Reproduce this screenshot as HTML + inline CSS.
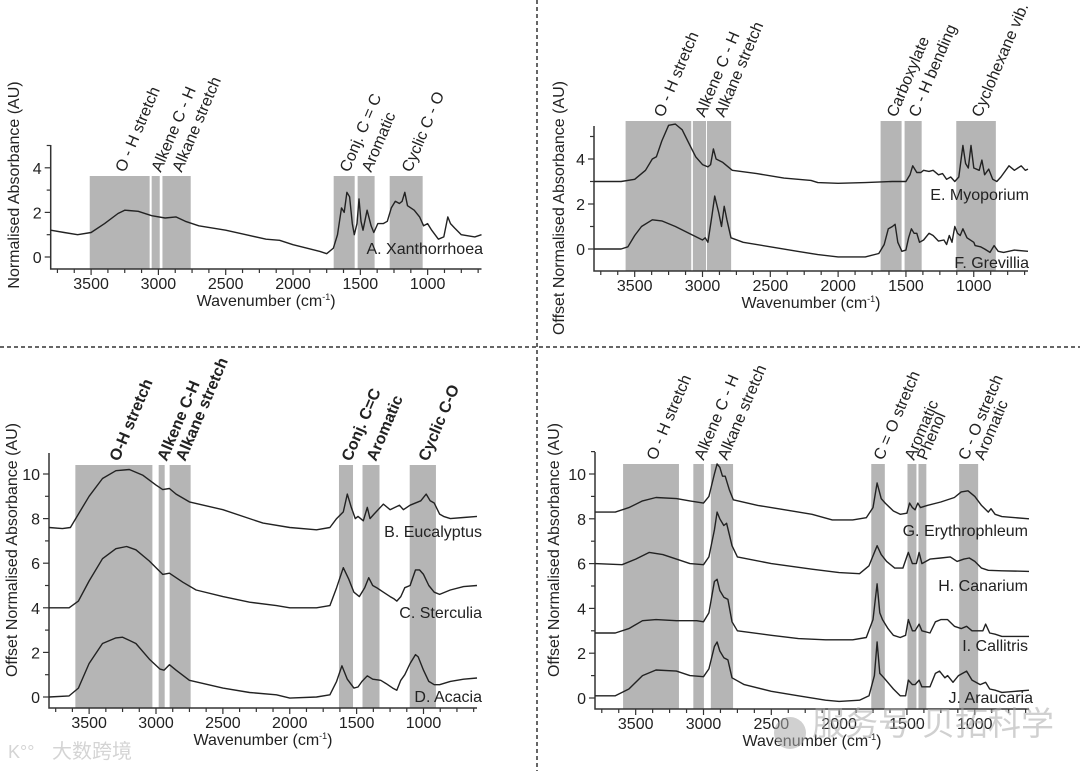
<!DOCTYPE html>
<html><head><meta charset="utf-8">
<style>
html,body{margin:0;padding:0;background:#fff;}
svg{display:block;font-family:"Liberation Sans","Noto Sans CJK SC",sans-serif;}
</style></head>
<body>
<svg id="fig" width="1080" height="771" viewBox="0 0 1080 771" xmlns="http://www.w3.org/2000/svg">
<rect x="0" y="0" width="1080" height="771" fill="#fff"/>
<line x1="537" y1="0" x2="537" y2="771" stroke="#333" stroke-width="1.5" stroke-dasharray="4 3"/>
<line x1="0" y1="347" x2="1080" y2="347" stroke="#333" stroke-width="1.5" stroke-dasharray="4 3"/>
<g id="layer"></g>
<g fill="#d4d4d4" font-size="20">
<text x="8" y="758" font-size="18">K°°</text>
<text x="52" y="758">大数跨境</text>
</g>
<g opacity="0.55">
<circle cx="790" cy="733" r="16" fill="#aaa"/>
<text x="812" y="735" font-size="33" fill="#aaa">服务号·贝拓科学</text>
</g>
</svg>
<script>
// ---------- data (wavenumber cm-1, absorbance AU) ----------
const wnA=[3800,3700,3600,3500,3400,3300,3250,3150,3050,2950,2870,2800,2700,2500,2350,2200,2100,2000,1900,1800,1750,1700,1670,1640,1620,1600,1580,1560,1545,1525,1510,1495,1480,1450,1420,1400,1370,1330,1300,1270,1240,1210,1190,1170,1150,1100,1060,1030,1000,970,920,880,850,830,800,750,700,650,600];
const abA=[1.2,1.1,1.0,1.1,1.5,1.95,2.1,2.05,1.85,1.75,1.8,1.6,1.4,1.2,1.0,0.8,0.75,0.55,0.4,0.25,0.15,0.4,1.0,2.2,2.0,2.9,2.7,1.5,1.0,1.5,2.6,1.6,1.2,2.1,1.4,1.1,1.5,1.5,1.6,2.2,2.5,2.4,2.5,2.9,2.3,2.1,1.8,1.4,1.5,1.2,0.8,0.9,1.8,1.5,1.3,1.0,0.95,0.9,1.0];

const wnE=[3800,3600,3500,3420,3370,3340,3300,3250,3200,3150,3100,3050,3000,2960,2940,2920,2900,2850,2780,2600,2400,2200,2150,2000,1800,1600,1500,1470,1450,1420,1390,1370,1330,1300,1260,1230,1200,1170,1140,1110,1080,1060,1040,1020,1000,960,940,920,890,860,830,800,740,700,650,620,600];
const abE=[3.0,3.0,3.1,3.5,4.0,4.1,4.8,5.5,5.55,5.3,4.7,4.1,3.75,3.65,3.75,4.45,4.0,3.85,3.5,3.35,3.15,3.05,2.95,2.92,2.95,3.0,3.0,3.3,3.7,3.4,3.4,3.5,3.45,3.5,3.3,3.35,3.1,3.2,3.0,3.2,4.6,3.8,3.6,4.6,3.6,3.5,3.95,3.3,3.55,3.1,3.0,3.2,3.7,3.5,3.7,3.5,3.55];
const wnF=[3800,3600,3550,3500,3450,3370,3300,3200,3100,3000,2980,2960,2930,2910,2880,2860,2840,2820,2790,2700,2500,2300,2150,2000,1800,1700,1660,1630,1600,1580,1560,1530,1500,1480,1460,1440,1420,1400,1370,1330,1300,1260,1220,1200,1180,1160,1140,1120,1100,1080,1050,1000,990,950,920,880,850,820,780,700,600];
const abF=[0,0,0.1,0.6,1.0,1.3,1.25,1.0,0.7,0.4,0.5,0.3,1.5,2.35,1.6,1.0,1.9,1.3,0.5,0.3,0.1,-0.1,-0.25,-0.35,-0.35,-0.2,0.2,0.9,1.0,1.1,0.3,-0.1,-0.05,0.5,0.9,0.7,0.7,0.3,0.4,0.7,0.6,0.35,0.4,0.2,0.6,0.3,1.0,0.7,0.6,0.9,0.5,0.3,0.15,0.1,0.0,-0.15,0.15,-0.1,-0.15,-0.05,-0.1];

const wnB=[3800,3700,3640,3580,3500,3400,3300,3200,3100,3000,2950,2900,2850,2750,2500,2200,2000,1800,1700,1650,1600,1570,1540,1510,1490,1450,1420,1400,1370,1300,1250,1180,1150,1100,1020,980,950,920,880,850,800,700,600];
const abB=[7.6,7.55,7.6,8.2,9.0,9.8,10.15,10.2,9.95,9.5,9.3,9.35,9.1,8.75,8.4,7.8,7.6,7.5,7.6,8.0,8.3,9.1,8.5,8.0,8.1,7.9,8.5,8.0,8.2,8.65,8.4,8.6,8.4,8.6,8.8,9.1,8.8,8.7,8.2,8.1,8.0,8.05,8.1];
const wnC=[3800,3650,3580,3500,3400,3300,3220,3150,3050,2950,2900,2800,2700,2500,2300,2100,2000,1800,1700,1650,1600,1560,1520,1480,1440,1410,1380,1350,1300,1250,1220,1200,1170,1140,1100,1060,1030,1000,960,920,880,800,700,600];
const abC=[4.0,4.0,4.3,5.2,6.2,6.65,6.75,6.6,6.1,5.5,5.55,5.15,4.8,4.5,4.25,4.1,4.0,4.0,4.1,4.9,5.8,5.3,4.7,4.5,4.9,5.35,5.0,4.9,4.7,4.5,4.4,4.3,4.5,4.9,5.0,5.7,5.7,5.5,5.0,4.7,4.6,4.8,4.95,5.0];
const wnD=[3800,3650,3580,3500,3400,3300,3250,3150,3050,2970,2940,2900,2850,2750,2500,2300,2100,2000,1800,1700,1650,1610,1570,1520,1490,1460,1420,1380,1320,1280,1230,1200,1170,1140,1100,1060,1040,1000,960,920,880,800,700,600];
const abD=[0.0,0.05,0.4,1.5,2.4,2.65,2.68,2.4,1.7,1.25,1.2,1.45,1.2,0.75,0.4,0.2,0.1,-0.05,0.0,0.1,0.7,1.4,0.8,0.4,0.45,0.7,0.95,0.8,0.75,0.6,0.4,0.3,0.75,1.0,1.5,1.9,1.8,1.2,0.7,0.55,0.55,0.7,0.8,0.85];

const wnG=[3800,3650,3550,3450,3350,3200,3100,3000,2960,2920,2900,2880,2860,2840,2810,2780,2600,2400,2200,2050,1900,1800,1750,1720,1690,1660,1600,1550,1500,1480,1460,1440,1420,1400,1350,1250,1150,1100,1050,1000,950,900,880,850,800,700,600];
const abG=[8.3,8.3,8.5,8.8,8.95,8.9,8.8,8.7,9.0,10.0,10.45,10.3,9.9,9.9,9.3,8.85,8.6,8.4,8.2,7.95,7.95,8.05,8.5,9.6,8.9,8.7,8.35,8.2,8.25,8.7,8.5,8.4,8.7,8.5,8.6,8.75,8.95,9.2,9.25,9.0,8.6,8.3,8.45,8.2,8.1,8.05,8.0];
const wnH=[3800,3600,3500,3400,3300,3200,3100,3000,2960,2920,2900,2880,2850,2830,2790,2750,2500,2200,2000,1850,1780,1720,1690,1650,1590,1530,1490,1460,1430,1410,1390,1330,1250,1180,1130,1080,1040,1000,950,900,800,600];
const abH=[6.0,5.95,6.2,6.5,6.4,6.2,6.0,5.95,6.3,7.5,8.3,8.0,7.7,7.8,6.8,6.3,6.0,5.75,5.6,5.55,5.9,6.8,6.4,6.1,5.8,5.8,6.5,6.0,6.0,6.5,6.0,6.2,6.25,6.3,6.1,6.2,6.25,6.1,5.8,5.7,5.68,5.65];
const wnI=[3800,3650,3550,3450,3350,3200,3050,3000,2960,2920,2900,2880,2850,2820,2790,2750,2500,2300,2100,1900,1800,1750,1720,1700,1680,1640,1600,1550,1510,1490,1460,1440,1410,1390,1330,1290,1250,1200,1150,1100,1060,1020,940,920,890,850,800,600];
const abI=[2.9,2.9,3.1,3.45,3.5,3.45,3.45,3.4,3.8,5.2,5.3,4.8,4.5,4.4,3.4,3.0,2.8,2.65,2.6,2.6,2.7,3.5,5.1,3.8,3.5,3.1,2.8,2.7,2.8,3.5,3.0,3.0,3.3,3.0,2.9,3.4,3.5,3.5,3.2,3.1,3.2,3.0,3.0,3.3,2.9,2.85,2.75,2.75];
const wnJ=[3800,3650,3550,3450,3350,3200,3100,3000,2960,2920,2900,2880,2850,2820,2790,2700,2500,2300,2100,2000,1850,1780,1740,1720,1700,1670,1600,1550,1510,1490,1460,1440,1410,1390,1330,1290,1260,1220,1200,1160,1120,1060,1020,960,920,890,850,800,700,600];
const abJ=[0.1,0.1,0.4,1.0,1.25,1.2,1.0,0.95,1.3,2.3,2.5,2.1,1.8,1.7,0.9,0.6,0.3,0.1,-0.1,-0.15,-0.1,0.1,1.0,2.5,1.1,0.9,0.4,0.1,0.1,0.8,0.6,0.6,0.8,0.5,0.5,1.1,1.2,0.9,1.0,0.7,1.0,1.2,0.8,0.6,0.7,0.4,0.35,0.25,0.3,0.35];

// tick labels
const xTickLabels=[3500,3000,2500,2000,1500,1000];
const yTicksTop=[0,2,4];
const yTicksBottom=[0,2,4,6,8,10];

// band ranges [high, low] cm-1 and labels
const bandsA=[[3510,3065],[3050,2990],[2970,2760],[1698,1542],[1520,1394],[1282,1037]];
const bandLabelsA=["O - H stretch","Alkene C - H","Alkane stretch","Conj. C = C","Aromatic","Cyclic C - O"];
const bandsB=[[3567,3083],[3071,2974],[2967,2789],[1687,1532],[1510,1384],[1129,837]];
const bandLabelsB=["O - H stretch","Alkene C - H","Alkane stretch","Carboxylate","C - H bending","Cyclohexane vib."];
const bandsC=[[3603,3027],[2980,2935],[2898,2741],[1632,1527],[1456,1329],[1103,907]];
const bandLabelsC=["O-H stretch","Alkene C-H","Alkane stretch","Conj. C=C","Aromatic","Cyclic C-O"];
const bandsD=[[3593,3181],[3075,2997],[2946,2782],[1763,1663],[1496,1430],[1415,1357],[1115,975]];
const bandLabelsD=["O - H stretch","Alkene C - H","Alkane stretch","C = O stretch","Aromatic","Phenol","C - O stretch"];

const NS="http://www.w3.org/2000/svg";
const layer=document.getElementById('layer');
function mk(tag,attrs,parent){const e=document.createElementNS(NS,tag);for(const k in attrs)e.setAttribute(k,attrs[k]);(parent||layer).appendChild(e);return e;}

function panel(p){
  const g=mk('g',{});
  
  
  const X=w=>p.x0+(3800-w)/3200*(p.x1-p.x0);
  const Y=v=>p.yz-v*p.ppu;
  const FS=16;
  p.bands.forEach((b,i)=>{
    const r=mk('rect',{x:X(b[0]),y:p.bandTop,width:X(b[1])-X(b[0]),height:p.yb-p.bandTop,fill:'#b5b5b5'},g);
    
    
  });
  p.labels.forEach((t,i)=>{
    const b=p.bands[i]; let cx=(X(b[0])+X(b[1]))/2+(p.labelDx&&p.labelDx[i]||0);
    const tx=mk('text',{x:0,y:0,'font-size':FS,fill:'#222','font-weight':p.bold?'bold':'normal',transform:'translate('+(cx+5)+','+(p.bandTop-3)+') rotate(-67)'},g);
    tx.textContent=t;
    
    
  });
  if(p.extraLabel){
    const b=p.bands[p.bands.length-1];const cx=(X(b[0])+X(b[1]))/2+10;
    const tx=mk('text',{x:0,y:0,'font-size':FS,fill:'#222',transform:'translate('+(cx+5)+','+(p.bandTop-3)+') rotate(-67)'},g);
    tx.textContent=p.extraLabel;
    
    
  }
  const ax=mk('path',{d:'M'+p.x0+','+p.yt+'V'+p.yb+'H'+p.x1,fill:'none',stroke:'#333','stroke-width':1.5},g);
  
  
  for(let w=3750;w>=600;w-=125){
    const major=(w%500===0);
    mk('line',{x1:X(w),x2:X(w),y1:p.yb,y2:p.yb+(major?6:4),stroke:'#333','stroke-width':1.2},g);
  }
  xTickLabels.forEach(w=>{
    const t=mk('text',{x:X(w),y:p.yb+20,'font-size':FS,'text-anchor':'middle',fill:'#222'},g);
    t.textContent=w;
    
    
  });
  const yt=p.yTicks;
  for(let v=yt[0];v<=yt[yt.length-1]+1;v++){
    if(Y(v)<p.yt-1)break;
    mk('line',{x1:p.x0,x2:p.x0-(v%2===0?6:4),y1:Y(v),y2:Y(v),stroke:'#333','stroke-width':1.2},g);
  }
  yt.forEach(v=>{
    const t=mk('text',{x:p.x0-9,y:Y(v)+6,'font-size':FS,'text-anchor':'end',fill:'#222'},g);
    t.textContent=v;
    
    
  });
  const xt=mk('text',{x:(p.x0+p.x1)/2,y:p.yb+37,'font-size':FS,'text-anchor':'middle',fill:'#222'},g);
  xt.innerHTML='Wavenumber (cm<tspan font-size="9" dy="-6">-1</tspan><tspan dy="6">)</tspan>';
  
  
  const ytl=mk('text',{x:0,y:0,'font-size':FS,'text-anchor':'middle',fill:'#222',transform:'translate('+p.ytx+','+p.yty+') rotate(-90)'},g);
  ytl.textContent=p.ytitle;
  
  
  p.series.forEach(s=>{
    const d=s.wn.map((w,i)=>(i?'L':'M')+X(w).toFixed(1)+','+Y(s.ab[i]).toFixed(1)).join('');
    const pl=mk('path',{d:d,fill:'none',stroke:'#222','stroke-width':1.4,'stroke-linejoin':'round'},g);
    
    
    const t=mk('text',{x:s.lx,y:s.ly,'font-size':FS,'text-anchor':'end',fill:'#222'},g);
    t.textContent=s.label;
    
    
  });
}

panel({name:'panel-a',x0:50.7,x1:481.5,yz:257,ppu:22.3,yb:269,yt:145,bandTop:176,yTicks:yTicksTop,
  bands:bandsA,labels:bandLabelsA,ytitle:'Normalised Absorbance (AU)',ytx:19,yty:185,
  series:[{id:'xanthorrhoea',wn:wnA,ab:abA,label:'A. Xanthorrhoea',lx:483,ly:254}]});
panel({name:'panel-b',x0:594,x1:1028,yz:249,ppu:22.5,yb:271,yt:126,bandTop:121,yTicks:yTicksTop,
  bands:bandsB,labels:bandLabelsB,ytitle:'Offset Normalised Absorbance (AU)',ytx:564,yty:208,
  series:[{id:'myoporium',wn:wnE,ab:abE,label:'E. Myoporium',lx:1029,ly:200},
          {id:'grevillia',wn:wnF,ab:abF,label:'F. Grevillia',lx:1029,ly:268}]});
panel({name:'panel-c',x0:49,x1:477,yz:697,ppu:22.3,yb:708,yt:453,bandTop:465,yTicks:yTicksBottom,bold:true,
  bands:bandsC,labels:bandLabelsC,ytitle:'Offset Normalised Absorbance (AU)',ytx:17,yty:550,
  series:[{id:'eucalyptus',wn:wnB,ab:abB,label:'B. Eucalyptus',lx:482,ly:537},
          {id:'sterculia',wn:wnC,ab:abC,label:'C. Sterculia',lx:482,ly:618},
          {id:'acacia',wn:wnD,ab:abD,label:'D. Acacia',lx:482,ly:702}]});
panel({name:'panel-d',x0:595,x1:1029,yz:698,ppu:22.4,yb:709,yt:452,bandTop:464,yTicks:yTicksBottom,
  bands:bandsD,labels:bandLabelsD,extraLabel:'Aromatic',labelDx:[0,0,0,0,-3,-1,-6],
  ytitle:'Offset Normalised Absorbance (AU)',ytx:559,yty:550,
  series:[{id:'erythrophleum',wn:wnG,ab:abG,label:'G. Erythrophleum',lx:1028,ly:536},
          {id:'canarium',wn:wnH,ab:abH,label:'H. Canarium',lx:1028,ly:591},
          {id:'callitris',wn:wnI,ab:abI,label:'I. Callitris',lx:1028,ly:651},
          {id:'araucaria',wn:wnJ,ab:abJ,label:'J. Araucaria',lx:1033,ly:703}]});
</script>
</body></html>
